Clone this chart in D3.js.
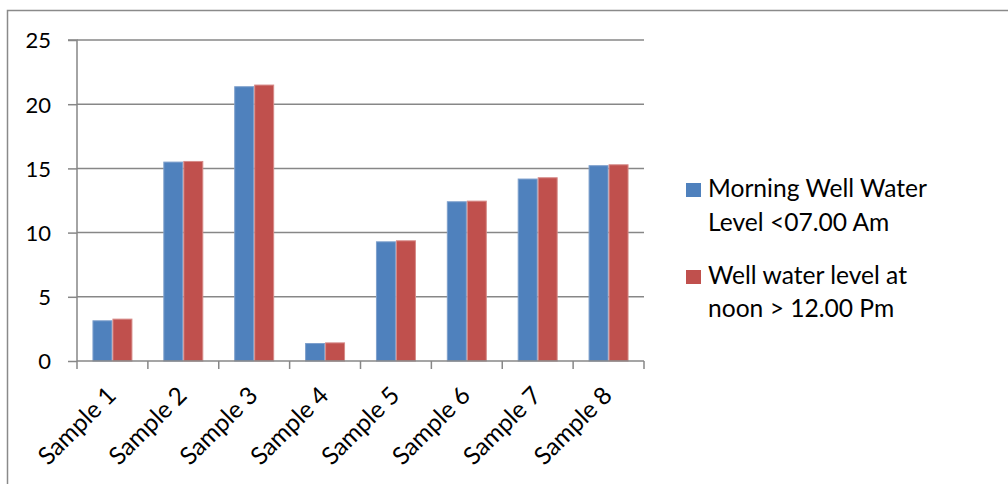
<!DOCTYPE html>
<html><head><meta charset="utf-8">
<script src="https://cdn.jsdelivr.net/npm/d3@7"></script>
<style>html,body{margin:0;padding:0;background:#fff;}svg{display:block;}</style>
</head><body>
<svg id="c" width="1008" height="484"></svg>
<script>
const categories = ["Sample 1","Sample 2","Sample 3","Sample 4","Sample 5","Sample 6","Sample 7","Sample 8"];
const morning = [3.17, 15.53, 21.40, 1.40, 9.32, 12.44, 14.21, 15.25];
const noon = [3.30, 15.58, 21.53, 1.45, 9.40, 12.49, 14.31, 15.32];
const seriesNames = [["Morning Well Water","Level <07.00 Am"],["Well water level at","noon > 12.00 Pm"]];
const yTicks = [0,5,10,15,20,25];
const colors = ["#4F81BD","#C0504D"];
const strokes = ["#7EA0CC","#D68A88"];

const svg = d3.select("#c");
const font = "Lato, 'Open Sans', sans-serif";

// size a font so that a sample string has the target width
function fitSize(sample, target){
  const t = svg.append("text").attr("font-family",font).attr("font-size",20).text(sample);
  const w = t.node().getComputedTextLength();
  t.remove();
  return 20*target/w;
}
const fsY = 22;
const fsX = fitSize("Sample 1", 98);
const fsL = fitSize("Morning Well Water", 219);

// frame
svg.append("path").attr("d","M7.5,484 V10.5 H1008").attr("fill","none").attr("stroke","#8a8a8a").attr("stroke-width",1.5);

const x0 = 77, x1 = 644, yTop = 40, yBot = 361;
const x = d3.scaleBand().domain(categories).range([x0,x1]).paddingInner(0.436).paddingOuter(0.218);
const y = d3.scaleLinear().domain([0,25]).range([yBot,yTop]);

// gridlines
svg.append("g").selectAll("line").data(yTicks.filter(d=>d>0)).join("line")
  .attr("x1",x0).attr("x2",x1).attr("y1",d=>y(d)).attr("y2",d=>y(d))
  .attr("stroke","#878787").attr("stroke-width",1.5);

// bars
const xs = d3.scaleBand().domain([0,1]).range([0,x.bandwidth()]);
const data = [morning, noon];
data.forEach((vals,si)=>{
  svg.append("g").selectAll("rect").data(vals).join("rect")
    .attr("x",(d,i)=>x(categories[i])+xs(si)+0.5)
    .attr("y",d=>y(d)+0.5)
    .attr("width",xs.bandwidth()-1)
    .attr("height",d=>yBot-y(d)-0.5)
    .attr("fill",colors[si]).attr("stroke",strokes[si]).attr("stroke-width",1);
});

// y axis
const yAxis = d3.axisLeft(y).tickValues(yTicks).tickSize(9).tickPadding(17);
const gy = svg.append("g").attr("transform",`translate(${x0},0)`).call(yAxis);
gy.select(".domain").attr("stroke","#878787").attr("stroke-width",1.5).attr("d",`M-9,${yTop}H0V${yBot}`);
gy.selectAll(".tick line").attr("stroke","#878787").attr("stroke-width",1.5);
gy.selectAll(".tick text").attr("font-family",font).attr("font-size",fsY).attr("fill","#000").attr("dy","0.36em");

// x axis
const gx = svg.append("g").attr("transform",`translate(0,${yBot})`);
gx.append("line").attr("x1",x0).attr("x2",x1).attr("y1",0).attr("y2",0).attr("stroke","#878787").attr("stroke-width",1.5);
const step = x.step();
const bounds = categories.map((c,i)=>x0 + i*step);
bounds.push(x1);
gx.selectAll("line.t").data(bounds).join("line").attr("class","t")
  .attr("x1",d=>d).attr("x2",d=>d).attr("y1",0).attr("y2",8)
  .attr("stroke","#878787").attr("stroke-width",1.5);
gx.selectAll("text").data(categories).join("text")
  .attr("transform",d=>`translate(${x(d)+x.bandwidth()/2+5},${36}) rotate(-45)`)
  .attr("text-anchor","end").attr("font-family",font).attr("font-size",fsX).attr("fill","#000")
  .text(d=>d);

// legend
const legY = [[197,231],[284,317]];
seriesNames.forEach((lines,si)=>{
  const g = svg.append("g");
  g.append("rect").attr("x",686).attr("y",legY[si][0]-14).attr("width",15).attr("height",14).attr("fill",colors[si]);
  lines.forEach((t,li)=>{
    g.append("text").attr("x",708).attr("y",legY[si][li]).attr("font-family",font).attr("font-size",fsL).attr("fill","#000").text(t);
  });
});
</script>
</body></html>
